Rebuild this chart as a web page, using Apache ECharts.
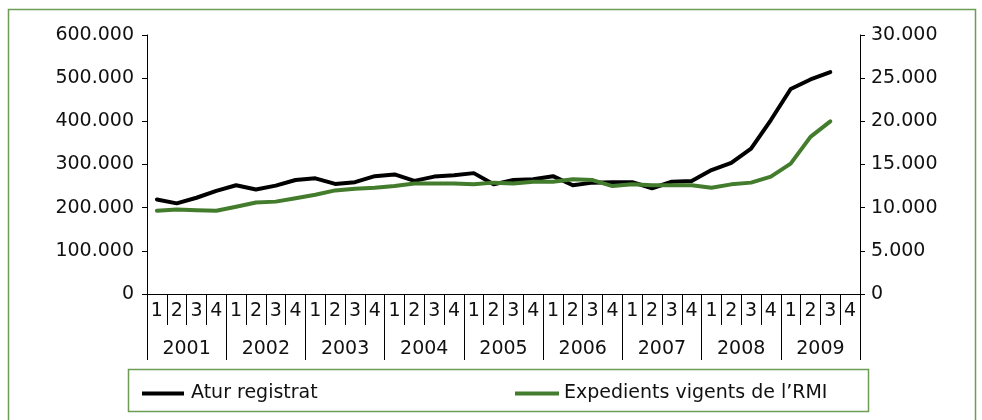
<!DOCTYPE html>
<html>
<head>
<meta charset="utf-8">
<script src="https://cdn.jsdelivr.net/npm/echarts@6/dist/echarts.min.js"></script>
<style>
  html, body { margin: 0; padding: 0; background: #fff; }
  #chart { width: 982px; height: 420px; }
</style>
</head>
<body>
<div id="chart"></div>
<script>
// Quarterly series, 2001–2009
const years = ['2001', '2002', '2003', '2004', '2005', '2006', '2007', '2008', '2009'];
const quarterLabels = ['1', '2', '3', '4'];

// Registered unemployment (left axis)
const aturRegistrat = [
  219000, 210000, 223000, 239000,
  252000, 242000, 251000, 264000,
  268000, 255000, 259000, 273000,
  277000, 262000, 272000, 275000,
  280000, 254000, 264000, 266000,
  273000, 252000, 258000, 259000,
  259000, 245000, 260000, 262000,
  287000, 304000, 337000, 403000,
  475000, 497000, 514000, null
];

// Active RMI files (right axis)
const expedientsRMI = [
  9650, 9800, 9700, 9650,
  10100, 10600, 10700, 11100,
  11500, 12000, 12200, 12300,
  12500, 12800, 12800, 12800,
  12700, 12900, 12800, 13000,
  13000, 13300, 13200, 12500,
  12700, 12600, 12600, 12600,
  12300, 12700, 12900, 13600,
  15100, 18200, 20000, null
];

const leftTicks = { min: 0, max: 600000, interval: 100000 };
const rightTicks = { min: 0, max: 30000, interval: 5000 };

const seriesNames = ['Atur registrat', 'Expedients vigents de l\u2019RMI'];

const categories = [];
years.forEach(y => quarterLabels.forEach(q => categories.push(y + '-' + q)));

const FONT = 'DejaVu Sans';
const GREEN = '#427c2c';
const FRAME = '#6d9c55';

function thousands(v) {
  return String(v).replace(/\B(?=(\d{3})+(?!\d))/g, '.');
}

const chart = echarts.init(document.getElementById('chart'), null, { renderer: 'canvas' });

const baseText = { fontFamily: FONT, fontSize: 19, color: '#111' };
const axisLine = { show: true, lineStyle: { color: '#000', width: 1 } };

chart.setOption({
  animation: false,
  backgroundColor: '#fff',
  textStyle: { fontFamily: FONT },
  grid: { left: 147, right: 122, top: 35, bottom: 126, containLabel: false },
  graphic: [
    {
      type: 'rect', silent: true, z: -1,
      shape: { x: 8.5, y: 9.5, width: 967, height: 430 },
      style: { fill: null, stroke: FRAME, lineWidth: 1.5 }
    },
    {
      type: 'rect', silent: true, z: -1,
      shape: { x: 128.5, y: 369.5, width: 740, height: 42 },
      style: { fill: null, stroke: FRAME, lineWidth: 1.5 }
    }
  ],
  legend: [
    {
      data: [seriesNames[0]],
      left: 137, top: 379,
      icon: 'rect', itemWidth: 42, itemHeight: 4, itemGap: 8,
      textStyle: Object.assign({}, baseText, { padding: [0, 0, 0, 2] })
    },
    {
      data: [seriesNames[1]],
      left: 510, top: 379,
      icon: 'rect', itemWidth: 44, itemHeight: 4, itemGap: 8,
      textStyle: Object.assign({}, baseText, { padding: [0, 0, 0, 0] })
    }
  ],
  xAxis: [
    {
      type: 'category',
      data: categories,
      boundaryGap: true,
      position: 'bottom',
      axisLine: axisLine,
      axisTick: { show: true, interval: 0, length: 31, lineStyle: { color: '#000' } },
      axisLabel: Object.assign({}, baseText, {
        interval: 0, margin: 8,
        formatter: v => v.split('-')[1]
      })
    },
    {
      type: 'category',
      data: years,
      boundaryGap: true,
      position: 'bottom',
      axisLine: { show: false },
      axisTick: { show: true, interval: 0, length: 66, lineStyle: { color: '#000' } },
      axisLabel: Object.assign({}, baseText, { interval: 0, margin: 46 })
    }
  ],
  yAxis: [
    {
      type: 'value',
      position: 'left',
      min: leftTicks.min, max: leftTicks.max, interval: leftTicks.interval,
      axisLine: axisLine,
      axisTick: { show: true, length: 5, lineStyle: { color: '#000' } },
      splitLine: { show: false },
      axisLabel: Object.assign({}, baseText, { margin: 13, formatter: thousands })
    },
    {
      type: 'value',
      position: 'right',
      min: rightTicks.min, max: rightTicks.max, interval: rightTicks.interval,
      axisLine: axisLine,
      axisTick: { show: true, length: 5, lineStyle: { color: '#000' } },
      splitLine: { show: false },
      axisLabel: Object.assign({}, baseText, { margin: 11, formatter: thousands })
    }
  ],
  series: [
    {
      name: seriesNames[0],
      type: 'line',
      xAxisIndex: 0, yAxisIndex: 0,
      data: aturRegistrat,
      showSymbol: false, symbol: 'none',
      color: '#000',
      lineStyle: { color: '#000', width: 4, join: 'round', cap: 'round' },
      z: 3
    },
    {
      name: seriesNames[1],
      type: 'line',
      xAxisIndex: 0, yAxisIndex: 1,
      data: expedientsRMI,
      showSymbol: false, symbol: 'none',
      color: GREEN,
      lineStyle: { color: GREEN, width: 4, join: 'round', cap: 'round' },
      z: 4
    }
  ]
});
</script>
</body>
</html>
